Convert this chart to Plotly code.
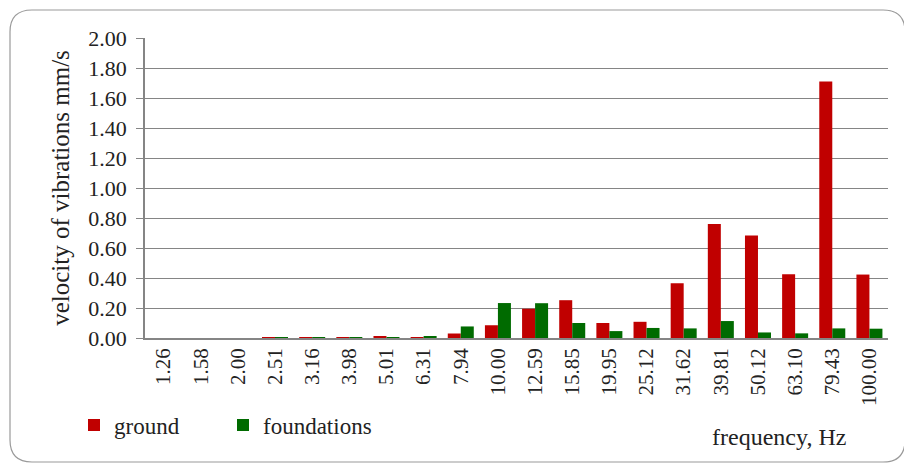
import plotly.graph_objects as go

# ---- data ----
FREQ_LABELS = ["1.26", "1.58", "2.00", "2.51", "3.16", "3.98", "5.01", "6.31", "7.94",
               "10.00", "12.59", "15.85", "19.95", "25.12", "31.62", "39.81", "50.12",
               "63.10", "79.43", "100.00"]
GROUND = [0.0, 0.0, 0.0, 0.001, 0.003, 0.003, 0.012, 0.003, 0.03,
          0.085, 0.195, 0.252, 0.10, 0.108, 0.365, 0.76, 0.683,
          0.425, 1.71, 0.423]
FOUNDATIONS = [0.0, 0.0, 0.0, 0.001, 0.003, 0.005, 0.005, 0.01, 0.077,
               0.233, 0.232, 0.10, 0.046, 0.067, 0.064, 0.113, 0.037,
               0.031, 0.064, 0.062]

COLOR_GROUND = "#C00000"
COLOR_FOUND = "#006B00"
COLOR_GRID = "#858585"
FONT = "Liberation Serif"

# page body adds an 8px offset; size the figure so it fits in the window
OFF = 8
W, H = 912 - OFF, 465 - OFF
# plot area, in screen pixels: x 145..888, y 38..338
L, T = 145 - OFF, 38 - OFF
R, B = W - (888 - OFF), H - (338 - OFF)
PW, PH = W - L - R, H - T - B


def scr2paper(x, y):
    """screen pixel -> paper coords"""
    return (x - OFF - L) / PW, (H - B - (y - OFF)) / PH


fig = go.Figure()
fig.add_trace(go.Bar(x=FREQ_LABELS, y=GROUND, name="ground",
                     marker=dict(color=COLOR_GROUND, line=dict(width=0))))
fig.add_trace(go.Bar(x=FREQ_LABELS, y=FOUNDATIONS, name="foundations",
                     marker=dict(color=COLOR_FOUND, line=dict(width=0))))

# rounded frame around the whole chart
x0, y0 = scr2paper(10, 10)
x1, y1 = scr2paper(905, 462)
rx, ry = 22 / PW, 22 / PH
path = (f"M {x0 + rx},{y0} L {x1 - rx},{y0} Q {x1},{y0} {x1},{y0 - ry} "
        f"L {x1},{y1 + ry} Q {x1},{y1} {x1 - rx},{y1} "
        f"L {x0 + rx},{y1} Q {x0},{y1} {x0},{y1 + ry} "
        f"L {x0},{y0 - ry} Q {x0},{y0} {x0 + rx},{y0} Z")
fig.add_shape(type="path", path=path, xref="paper", yref="paper",
              line=dict(color="#9A9A9A", width=1.2), layer="below")

ax, ay = scr2paper(848, 437)
fig.add_annotation(text="frequency, Hz", xref="paper", yref="paper",
                   x=ax, y=ay, xanchor="right", yanchor="middle", showarrow=False,
                   font=dict(family=FONT, size=24, color="#222"))

lx, ly = scr2paper(74, 425)
fig.update_layout(
    width=W, height=H,
    margin=dict(l=L, r=R, t=T, b=B, autoexpand=False),
    paper_bgcolor="white", plot_bgcolor="white",
    barmode="group", bargap=0.3, bargroupgap=0,
    font=dict(family=FONT, color="#222"),
    showlegend=True,
    legend=dict(orientation="h", x=lx, y=ly, xanchor="left", yanchor="middle",
                font=dict(family=FONT, size=23), entrywidth=104,
                itemwidth=30, bgcolor="rgba(0,0,0,0)"),
    xaxis=dict(type="category", tickangle=-90, showline=True, linecolor=COLOR_GRID,
               linewidth=1.5, ticks="", tickfont=dict(family=FONT, size=21),
               showgrid=False, automargin=False),
    yaxis=dict(range=[0, 2.0], dtick=0.2, tickformat=".2f", showline=True,
               linecolor=COLOR_GRID, linewidth=1.5, ticks="outside", ticklen=7,
               tickcolor=COLOR_GRID, gridcolor=COLOR_GRID, gridwidth=1.2,
               zeroline=False, tickfont=dict(family=FONT, size=22), automargin=False,
               ticklabelstandoff=5,
               title=dict(text="velocity of vibrations mm/s",
                          font=dict(family=FONT, size=25), standoff=12)),
)

fig.write_html("out.html")
